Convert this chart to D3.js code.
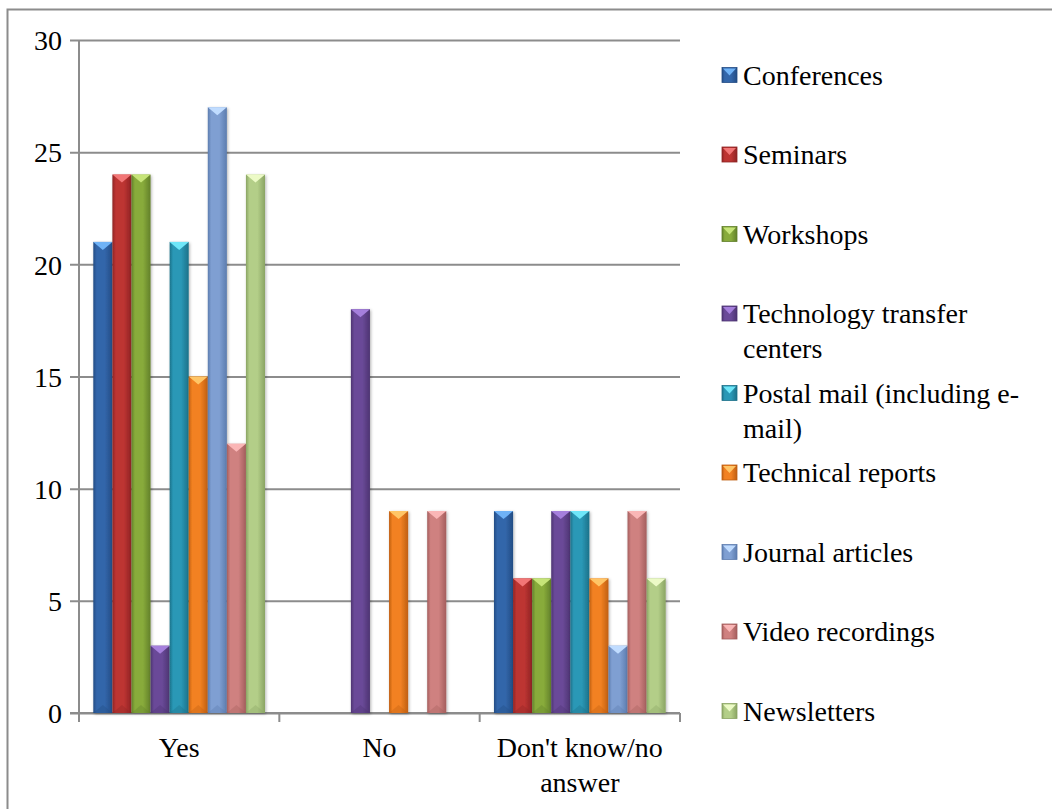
<!DOCTYPE html>
<html>
<head>
<meta charset="utf-8">
<script src="https://cdn.jsdelivr.net/npm/d3@7"></script>
<style>
  html, body { margin: 0; padding: 0; background: #ffffff; }
  svg { display: block; }
  svg text { font-family: "Liberation Serif", Tinos, "Times New Roman", Times, "DejaVu Serif", "Noto Serif", serif; fill: #000; }
</style>
</head>
<body>
<script>
// Survey answers grouped by response, one bar per dissemination channel
const categories = ["Yes", "No", "Don't know/no answer"];
const series = [
  "Conferences", "Seminars", "Workshops", "Technology transfer centers",
  "Postal mail (including e-mail)", "Technical reports", "Journal articles",
  "Video recordings", "Newsletters"
];
const conferences   = [21, 0, 9];
const seminars      = [24, 0, 6];
const workshops     = [24, 0, 6];
const techTransfer  = [3, 18, 9];
const postalMail    = [21, 0, 9];
const techReports   = [15, 9, 6];
const journalArts   = [27, 0, 3];
const videoRecs     = [12, 9, 9];
const newsletters   = [24, 0, 6];
const yTicks = [0, 5, 10, 15, 20, 25, 30];

// Legend text broken into the lines it wraps to
const legendLines = [
  ["Conferences"], ["Seminars"], ["Workshops"],
  ["Technology transfer", "centers"],
  ["Postal mail (including e-", "mail)"],
  ["Technical reports"], ["Journal articles"], ["Video recordings"], ["Newsletters"]
];
const xLabelLines = [["Yes"], ["No"], ["Don't know/no", "answer"]];

const values = [conferences, seminars, workshops, techTransfer, postalMail,
                techReports, journalArts, videoRecs, newsletters];

// Body, bevel-top and shade colours per series
const baseColors  = ["#3366aa", "#bd3432", "#88ab3b", "#6a4a98", "#2a98b6", "#f28122", "#7f9fd2", "#cf8180", "#b3ce88"];
const lightColors = ["#6fb2f6", "#f27676", "#c6e478", "#a57fdc", "#6ee6f8", "#ffc566", "#c0dcff", "#fab6b6", "#ecfac6"];
const darkColors  = ["#234d85", "#8f2424", "#62802a", "#4d3472", "#1c7189", "#bf5f12", "#5c7cae", "#a45e5d", "#8aa463"];

const W = 1052, H = 809;
const FONT = 28;
const svg = d3.select("body").append("svg").attr("width", W).attr("height", H);

const defs = svg.append("defs");
values.forEach((_, i) => {
  const g = defs.append("linearGradient").attr("id", "grad" + i)
    .attr("x1", "0%").attr("x2", "100%").attr("y1", "0%").attr("y2", "0%");
  g.append("stop").attr("offset", "0%").attr("stop-color", darkColors[i]);
  g.append("stop").attr("offset", "18%").attr("stop-color", baseColors[i]);
  g.append("stop").attr("offset", "60%").attr("stop-color", baseColors[i]);
  g.append("stop").attr("offset", "100%").attr("stop-color", darkColors[i]);
});
const shadow = defs.append("filter").attr("id", "shadow")
  .attr("x", "-30%").attr("y", "-5%").attr("width", "160%").attr("height", "110%");
shadow.append("feDropShadow").attr("dx", 1).attr("dy", 1)
  .attr("stdDeviation", 1.6).attr("flood-color", "#000").attr("flood-opacity", 0.3);

// Outer chart frame
svg.append("rect").attr("x", 7.5).attr("y", 9.5).attr("width", 1100).attr("height", 900)
  .attr("fill", "none").attr("stroke", "#8c8c8c").attr("stroke-width", 2);

const plot = { left: 79, right: 680, top: 40, bottom: 713 };

const y = d3.scaleLinear().domain([0, 30]).range([plot.bottom, plot.top]);
const x0 = d3.scaleBand().domain(categories).range([plot.left, plot.right]).paddingInner(0).paddingOuter(0);
// 150% gap between groups, split on both sides
const bw = x0.bandwidth() / (series.length + 1.5);
const x1 = d3.scaleBand().domain(series)
  .range([bw * 0.75, x0.bandwidth() - bw * 0.75]).padding(0);

const gridColor = "#8c8c8c";

// Horizontal gridlines with left tick stubs
const yAxis = d3.axisLeft(y).tickValues(yTicks).tickSize(-(plot.right - plot.left)).tickPadding(17)
  .tickFormat(d3.format("d"));
const gy = svg.append("g").attr("transform", `translate(${plot.left},0)`).call(yAxis);
gy.attr("font-family", null).attr("font-size", null);
gy.select(".domain").remove();
gy.selectAll(".tick line").attr("stroke", gridColor).attr("stroke-width", 2)
  .attr("x1", -9);
gy.selectAll(".tick text").attr("font-size", FONT).attr("dy", "0.35em").attr("fill", "#000");

// Vertical axis line
svg.append("line").attr("x1", plot.left).attr("x2", plot.left)
  .attr("y1", plot.top).attr("y2", plot.bottom)
  .attr("stroke", gridColor).attr("stroke-width", 2);

// Category axis: baseline and boundary ticks
const boundaries = categories.map(c => x0(c)).concat([x0(categories[categories.length - 1]) + x0.bandwidth()]);
svg.append("line").attr("x1", plot.left - 9).attr("x2", plot.right)
  .attr("y1", plot.bottom).attr("y2", plot.bottom)
  .attr("stroke", gridColor).attr("stroke-width", 2);
svg.selectAll(".xtick").data(boundaries).enter().append("line")
  .attr("x1", d => d).attr("x2", d => d)
  .attr("y1", plot.bottom).attr("y2", plot.bottom + 9)
  .attr("stroke", gridColor).attr("stroke-width", 2);

// Category labels
categories.forEach((c, ci) => {
  const cx = x0(c) + x0.bandwidth() / 2;
  const t = svg.append("text").attr("x", cx).attr("y", 757)
    .attr("text-anchor", "middle").attr("font-size", FONT);
  xLabelLines[ci].forEach((ln, li) => {
    t.append("tspan").attr("x", cx).attr("dy", li === 0 ? 0 : 35).text(ln);
  });
});

// Bars with bevelled tops
const barsG = svg.append("g");
categories.forEach((c, ci) => {
  series.forEach((s, si) => {
    const v = values[si][ci];
    if (!v) return;
    const bx = x0(c) + x1(s);
    const w = x1.bandwidth();
    const top = y(v), h = y(0) - y(v);
    const g = barsG.append("g");
    g.append("rect").attr("x", bx).attr("y", top).attr("width", w).attr("height", h)
      .attr("fill", `url(#grad${si})`).attr("filter", "url(#shadow)");
    const tri = Math.min(w * 0.42, h);
    g.append("path")
      .attr("d", `M${bx},${top}L${bx + w},${top}L${bx + w / 2},${top + tri}Z`)
      .attr("fill", lightColors[si]);
    g.append("path")
      .attr("d", `M${bx},${y(0)}L${bx + w},${y(0)}L${bx + w / 2},${y(0) - tri}Z`)
      .attr("fill", darkColors[si]).attr("opacity", 0.35);
  });
});

// Legend
const legendX = 722, legendY0 = 75, legendStep = 79.5, lineH = 35, box = 15;
series.forEach((s, si) => {
  const cy = legendY0 + si * legendStep;
  const g = svg.append("g");
  g.append("rect").attr("x", legendX).attr("y", cy - box / 2).attr("width", box).attr("height", box)
    .attr("fill", `url(#grad${si})`).attr("stroke", darkColors[si]).attr("stroke-width", 0.8);
  g.append("path")
    .attr("d", `M${legendX + 1},${cy - box / 2 + 1}L${legendX + box - 1},${cy - box / 2 + 1}L${legendX + box / 2},${cy + 0.5}Z`)
    .attr("fill", lightColors[si]);
  const t = g.append("text").attr("x", 743).attr("y", cy).attr("font-size", FONT);
  legendLines[si].forEach((ln, li) => {
    t.append("tspan").attr("x", 743).attr("dy", li === 0 ? "0.35em" : lineH).text(ln);
  });
});
</script>
</body>
</html>
